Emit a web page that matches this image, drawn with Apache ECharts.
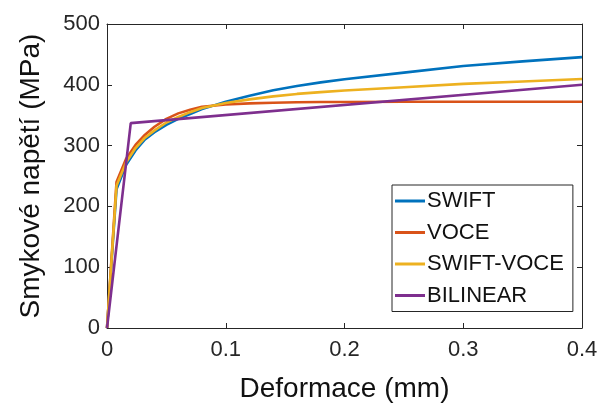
<!DOCTYPE html>
<html>
<head>
<meta charset="utf-8">
<script src="https://cdn.jsdelivr.net/npm/echarts@6/dist/echarts.min.js"></script>
<style>
html,body{margin:0;padding:0;background:#fff;}
#chart{width:602px;height:408px;}
</style>
</head>
<body>
<div id="chart"></div>
<script>
// Data
const strainX = [0, 0.008, 0.016, 0.024, 0.032, 0.04, 0.05, 0.06, 0.07, 0.08, 0.1, 0.12, 0.14, 0.16, 0.18, 0.2, 0.25, 0.3, 0.35, 0.4];
const swiftY = [0, 228, 268, 292, 310, 322, 334, 344, 352, 360, 372, 382, 391, 398, 404, 409, 420, 431, 438.5, 445.5];
const voceY = [0, 240, 278, 301, 318, 331, 344, 353, 359, 364, 367.5, 369.5, 370.5, 371.2, 371.6, 371.8, 372, 372, 372, 372];
const swiftVoceY = [0, 234, 272, 296, 313, 325, 338, 347, 355, 362, 370, 376, 381, 385, 388, 390.5, 396, 401.5, 405.5, 409.5];
const bilinearX = [0, 0.02, 0.4];
const bilinearY = [0, 337, 400];
const seriesNames = ['SWIFT', 'VOCE', 'SWIFT-VOCE', 'BILINEAR'];
const colors = ['#0072BD', '#D95319', '#EDB120', '#7E2F8E'];
const xTicks = [0, 0.1, 0.2, 0.3, 0.4];
const yTicks = [0, 100, 200, 300, 400, 500];

const zip = (xs, ys) => xs.map((x, i) => [x, ys[i]]);
const axisColor = '#262626';
const font = '"Liberation Sans", Arial, Helvetica, sans-serif';

const chart = echarts.init(document.getElementById('chart'), null, {renderer: 'canvas'});
const baseX = {
  type: 'value', min: xTicks[0], max: xTicks[xTicks.length - 1], interval: 0.1,
  axisLine: {show: true, onZero: false, lineStyle: {color: axisColor, width: 1}},
  axisTick: {show: true, inside: true, length: 5, lineStyle: {color: axisColor}},
  splitLine: {show: false}
};
const baseY = {
  type: 'value', min: yTicks[0], max: yTicks[yTicks.length - 1], interval: 100,
  axisLine: {show: true, onZero: false, lineStyle: {color: axisColor, width: 1}},
  axisTick: {show: true, inside: true, length: 5, lineStyle: {color: axisColor}},
  splitLine: {show: false}
};
const mkLine = (name, data, color) => ({
  name, type: 'line', data, showSymbol: false, symbol: 'none',
  lineStyle: {color, width: 2.6}, itemStyle: {color},
  animation: false, xAxisIndex: 0, yAxisIndex: 0
});
chart.setOption({
  animation: false,
  backgroundColor: '#ffffff',
  grid: {left: 107, right: 20, top: 24, bottom: 80, containLabel: false},
  xAxis: [
    Object.assign({}, baseX, {
      position: 'bottom',
      name: 'Deformace (mm)', nameLocation: 'middle', nameGap: 47,
      nameTextStyle: {fontSize: 28, color: '#111', fontFamily: font},
      axisLabel: {fontSize: 22, color: axisColor, fontFamily: font, margin: 11,
        formatter: v => String(v)}
    }),
    Object.assign({}, baseX, {position: 'top', axisLabel: {show: false}})
  ],
  yAxis: [
    Object.assign({}, baseY, {
      position: 'left',
      name: 'Smykové napětí (MPa)', nameLocation: 'middle', nameGap: 62,
      nameTextStyle: {fontSize: 28, color: '#111', fontFamily: font},
      axisLabel: {fontSize: 22, color: axisColor, fontFamily: font, margin: 7}
    }),
    Object.assign({}, baseY, {position: 'right', axisLabel: {show: false}})
  ],
  legend: {
    data: seriesNames,
    orient: 'vertical', left: 392, top: 185,
    padding: [5, 9, 5, 3], itemGap: 9.5,
    itemWidth: 30, itemHeight: 3, icon: 'rect',
    backgroundColor: '#ffffff', borderColor: axisColor, borderWidth: 1,
    textStyle: {fontSize: 22, color: '#111', fontFamily: font, padding: [0, 0, 0, -3]}
  },
  series: [
    mkLine(seriesNames[0], zip(strainX, swiftY), colors[0]),
    mkLine(seriesNames[1], zip(strainX, voceY), colors[1]),
    mkLine(seriesNames[2], zip(strainX, swiftVoceY), colors[2]),
    mkLine(seriesNames[3], zip(bilinearX, bilinearY), colors[3])
  ]
});
</script>
</body>
</html>
